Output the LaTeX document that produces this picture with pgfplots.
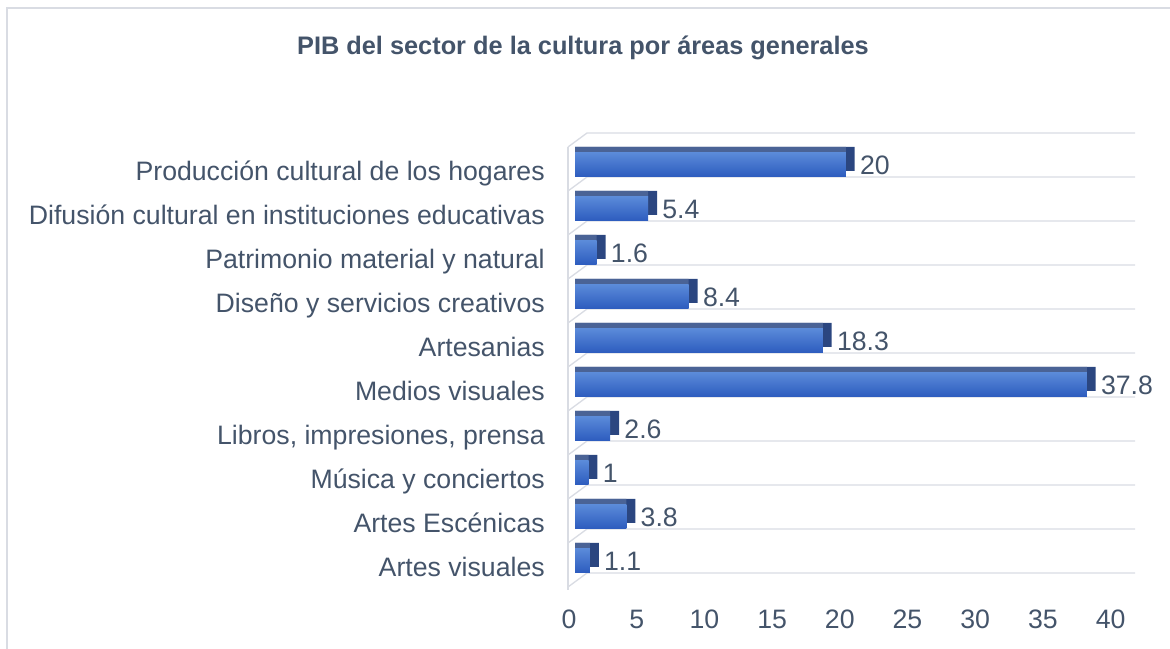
\documentclass[border=0pt]{standalone}
\usepackage{pgfplots}
\pgfplotsset{compat=1.18}
\usepackage{pgfplotstable}
\usepackage{fontspec}
\setmainfont{Liberation Sans}
\definecolor{txt}{HTML}{44546A}
\definecolor{gridc}{HTML}{D9DCE3}
\definecolor{fronttop}{HTML}{5A8AD9}
\definecolor{frontbot}{HTML}{2C5BBE}
\definecolor{topface}{HTML}{4A6396}
\definecolor{sideface}{HTML}{2B4680}

\pgfplotstableread{
y v
0 1.1
1 3.8
2 1
3 2.6
4 37.8
5 18.3
6 8.4
7 1.6
8 5.4
9 20
}\pib

\begin{document}
\begin{tikzpicture}
\useasboundingbox (0pt,0pt) rectangle (877.5pt,486.75pt);
\draw[gridc, line width=1pt] (5.25pt,-5pt) -- (5.25pt,480.75pt) -- (890pt,480.75pt);
\node[txt, font=\fontsize{19}{23}\selectfont\bfseries] at (437.25pt,451pt) {PIB del sector de la cultura por áreas generales};
\begin{axis}[
  at={(431.25pt,57pt)}, anchor=south west,
  scale only axis, width=420pt, height=330pt,
  xmin=0, xmax=41.36, ymin=-0.5, ymax=9.5,
  clip=false,
  axis line style={draw=none},
  tick style={draw=none},
  major tick length=0pt,
  xtick={0,5,...,40},
  ytick={0,...,9},
  yticklabels={Artes visuales, Artes Escénicas, Música y conciertos, {Libros, impresiones, prensa}, Medios visuales, Artesanias, Diseño y servicios creativos, Patrimonio material y natural, Difusión cultural en instituciones educativas, Producción cultural de los hogares},
  ticklabel style={font=\fontsize{20}{24}\selectfont, text=txt, inner sep=0pt},
  xticklabel style={anchor=center, yshift=-34.5pt, xshift=-4.5pt},
  yticklabel style={anchor=base east, xshift=-22.5pt, yshift=-19.5pt},
  /pgf/number format/assume math mode=true,
]
\draw[gridc, line width=1pt] ([xshift=-5.25pt,yshift=-12.5pt]axis cs:0,-0.5) -- ([xshift=-5.25pt,yshift=-10.5pt]axis cs:0,9.5);
\pgfplotsinvokeforeach{-0.5,0.5,...,9.5}{
  \draw[gridc, line width=1pt] ([xshift=-5.25pt,yshift=-10.5pt]axis cs:0,#1) -- ([xshift=9pt]axis cs:0,#1) -- (axis cs:41.36,#1);
}
\addplot[xbar, bar width=18pt, bar shift=-3pt, fill=sideface, draw=none] table[x expr=\thisrow{v}+0.66, y=y] {\pib};
\addplot[xbar, bar width=18pt, bar shift=-3pt, fill=topface, draw=none] table[x=v, y=y] {\pib};
\pgfplotsinvokeforeach{0,...,9}{
\addplot[xbar, bar width=18pt, bar shift=-7.5pt, top color=fronttop, bottom color=frontbot, draw=none,
  restrict y to domain=#1:#1,
  nodes near coords, nodes near coords style={anchor=west, inner sep=0pt, xshift=10.5pt, yshift=-7.5pt, font=\fontsize{20}{24}\selectfont, text=txt}] table[x=v, y=y] {\pib};
}
\end{axis}
\end{tikzpicture}
\end{document}
